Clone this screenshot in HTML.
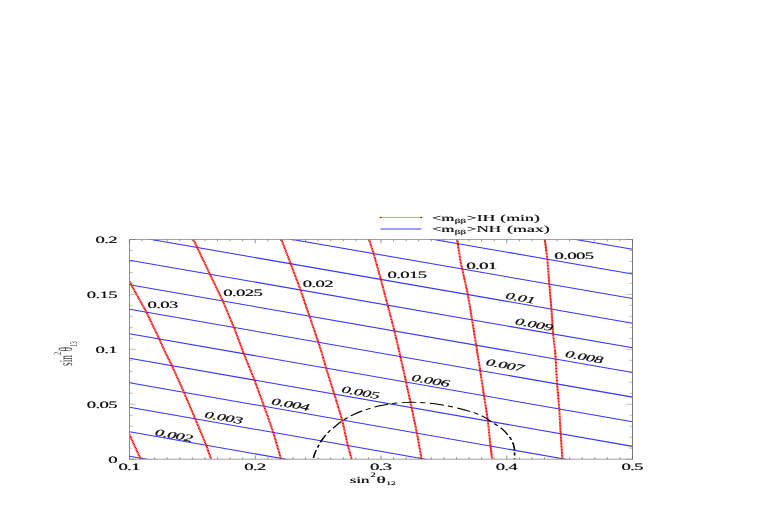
<!DOCTYPE html>
<html><head><meta charset="utf-8"><title>plot</title>
<style>html,body{margin:0;padding:0;background:#fff}svg{display:block}text{font-family:"Liberation Serif",serif;fill:#000;fill-opacity:0.8;text-rendering:geometricPrecision}</style>
</head><body>
<svg width="763" height="518" viewBox="0 0 763 518">
<rect width="763" height="518" fill="#fff"/>
<defs><clipPath id="c"><rect x="129.5" y="239.5" width="503.00" height="219.70"/></clipPath></defs>
<g clip-path="url(#c)" stroke="#3434ff" stroke-width="1.05" fill="none">
<line x1="129.5" y1="456.20" x2="632.5" y2="544.90"/>
<line x1="129.5" y1="431.70" x2="632.5" y2="520.27"/>
<line x1="129.5" y1="407.20" x2="632.5" y2="495.64"/>
<line x1="129.5" y1="382.70" x2="632.5" y2="471.01"/>
<line x1="129.5" y1="358.20" x2="632.5" y2="446.38"/>
<line x1="129.5" y1="333.70" x2="632.5" y2="421.75"/>
<line x1="129.5" y1="309.20" x2="632.5" y2="397.11"/>
<line x1="129.5" y1="284.70" x2="632.5" y2="372.48"/>
<line x1="129.5" y1="260.20" x2="632.5" y2="347.85"/>
<line x1="129.5" y1="235.70" x2="632.5" y2="323.22"/>
<line x1="129.5" y1="211.20" x2="632.5" y2="298.59"/>
<line x1="129.5" y1="186.70" x2="632.5" y2="273.96"/>
<line x1="129.5" y1="162.20" x2="632.5" y2="249.33"/>
</g>
<g clip-path="url(#c)" stroke="#ff0000" stroke-width="2.05" fill="none" stroke-dasharray="1.1 0.4">
<polyline points="129.5,434.7 140.7,459.2"/>
<polyline points="129.5,281.5 146.1,311.5 157.4,335.0 165.6,353.0 172.0,365.8 183.8,391.9 195.3,419.0 206.1,444.9 211.1,459.2"/>
<polyline points="193.4,239.5 209.8,273.9 222.3,299.9 234.2,328.0 241.3,347.0 243.5,353.0 254.1,379.0 264.0,406.0 273.1,431.9 281.1,459.2"/>
<polyline points="281.4,239.5 290.0,262.0 300.6,290.1 309.2,315.4 317.9,340.9 321.8,353.0 326.1,368.1 334.3,394.1 342.3,420.5 347.7,444.9 351.6,459.2"/>
<polyline points="369.1,239.5 373.6,253.4 380.8,279.3 387.7,305.3 394.2,330.1 399.6,353.0 406.1,382.2 411.5,407.1 416.9,433.0 421.6,459.2"/>
<polyline points="457.2,239.5 460.6,262.0 467.7,293.4 472.0,319.3 477.4,353.0 480.0,369.2 483.9,395.2 487.8,420.0 490.4,444.9 492.1,459.2"/>
<polyline points="544.8,239.5 547.3,258.8 549.4,284.3 551.4,309.2 553.1,334.5 555.3,353.0 557.0,383.3 559.2,408.1 560.7,433.0 562.4,459.2"/>
</g>
<g clip-path="url(#c)"><g transform="translate(413.6,459.2) scale(1.776,1)">
<path d="M -56.42 0.40 C -56.37 -0.20 -56.34 -1.87 -56.14 -3.20 C -55.93 -4.53 -55.61 -5.92 -55.18 -7.60 C -54.75 -9.28 -54.04 -11.62 -53.55 -13.30 C -53.05 -14.98 -52.74 -16.17 -52.20 -17.70 C -51.65 -19.23 -50.96 -20.98 -50.28 -22.50 C -49.61 -24.02 -48.86 -25.52 -48.14 -26.80 C -47.42 -28.08 -46.76 -28.98 -45.95 -30.20 C -45.13 -31.42 -44.19 -32.73 -43.24 -34.10 C -42.30 -35.47 -41.35 -37.07 -40.26 -38.40 C -39.17 -39.73 -37.83 -41.02 -36.71 -42.10 C -35.59 -43.18 -34.83 -43.88 -33.56 -44.90 C -32.28 -45.92 -30.56 -47.20 -29.05 -48.20 C -27.55 -49.20 -26.24 -50.02 -24.55 -50.90 C -22.86 -51.78 -20.61 -52.82 -18.92 -53.50 C -17.23 -54.18 -16.26 -54.52 -14.41 -55.00 C -12.57 -55.48 -10.03 -56.08 -7.83 -56.40 C -5.62 -56.72 -3.40 -56.88 -1.18 -56.90 C 1.03 -56.92 3.26 -56.75 5.46 -56.50 C 7.67 -56.25 9.71 -55.95 12.05 -55.40 C 14.39 -54.85 17.01 -54.07 19.48 -53.20 C 21.95 -52.33 24.81 -51.12 26.86 -50.20 C 28.90 -49.28 30.28 -48.50 31.76 -47.70 C 33.23 -46.90 34.48 -46.23 35.70 -45.40 C 36.92 -44.57 38.07 -43.62 39.08 -42.70 C 40.08 -41.78 40.59 -41.17 41.72 -39.90 C 42.86 -38.63 44.56 -36.68 45.89 -35.10 C 47.22 -33.52 48.57 -32.08 49.72 -30.40 C 50.86 -28.72 51.81 -27.02 52.76 -25.00 C 53.71 -22.98 54.77 -20.43 55.41 -18.30 C 56.04 -16.17 56.34 -14.23 56.59 -12.20 C 56.83 -10.17 56.84 -8.20 56.87 -6.10 C 56.90 -4.00 56.78 -0.68 56.76 0.40" fill="none" stroke="#000" stroke-width="0.95" stroke-dasharray="8.1 2.3 3.0 2.6" stroke-dashoffset="14.3"/>
</g></g>
<g stroke="#7a7a7a" fill="none"><line x1="129.5" y1="239.5" x2="129.5" y2="459.2" stroke-width="1" stroke="#8c8c8c"/><line x1="632.5" y1="239.5" x2="632.5" y2="459.2" stroke-width="1"/><line x1="129.0" y1="239.5" x2="633.0" y2="239.5" stroke-width="0.7"/><line x1="129.0" y1="459.2" x2="633.0" y2="459.2" stroke-width="0.7"/></g>
<g stroke="#666" stroke-width="0.4">
<line x1="129.50" y1="459.2" x2="129.50" y2="455.5" stroke-width="0.7"/>
<line x1="129.50" y1="239.5" x2="129.50" y2="243.2" stroke-width="0.7"/>
<line x1="142.07" y1="459.2" x2="142.07" y2="457.3" stroke-width="0.7"/>
<line x1="142.07" y1="239.5" x2="142.07" y2="241.4" stroke-width="0.7"/>
<line x1="154.65" y1="459.2" x2="154.65" y2="457.3" stroke-width="0.7"/>
<line x1="154.65" y1="239.5" x2="154.65" y2="241.4" stroke-width="0.7"/>
<line x1="167.22" y1="459.2" x2="167.22" y2="457.3" stroke-width="0.7"/>
<line x1="167.22" y1="239.5" x2="167.22" y2="241.4" stroke-width="0.7"/>
<line x1="179.80" y1="459.2" x2="179.80" y2="457.3" stroke-width="0.7"/>
<line x1="179.80" y1="239.5" x2="179.80" y2="241.4" stroke-width="0.7"/>
<line x1="192.38" y1="459.2" x2="192.38" y2="457.3" stroke-width="0.7"/>
<line x1="192.38" y1="239.5" x2="192.38" y2="241.4" stroke-width="0.7"/>
<line x1="204.95" y1="459.2" x2="204.95" y2="457.3" stroke-width="0.7"/>
<line x1="204.95" y1="239.5" x2="204.95" y2="241.4" stroke-width="0.7"/>
<line x1="217.53" y1="459.2" x2="217.53" y2="457.3" stroke-width="0.7"/>
<line x1="217.53" y1="239.5" x2="217.53" y2="241.4" stroke-width="0.7"/>
<line x1="230.10" y1="459.2" x2="230.10" y2="457.3" stroke-width="0.7"/>
<line x1="230.10" y1="239.5" x2="230.10" y2="241.4" stroke-width="0.7"/>
<line x1="242.68" y1="459.2" x2="242.68" y2="457.3" stroke-width="0.7"/>
<line x1="242.68" y1="239.5" x2="242.68" y2="241.4" stroke-width="0.7"/>
<line x1="255.25" y1="459.2" x2="255.25" y2="455.5" stroke-width="0.7"/>
<line x1="255.25" y1="239.5" x2="255.25" y2="243.2" stroke-width="0.7"/>
<line x1="267.82" y1="459.2" x2="267.82" y2="457.3" stroke-width="0.7"/>
<line x1="267.82" y1="239.5" x2="267.82" y2="241.4" stroke-width="0.7"/>
<line x1="280.40" y1="459.2" x2="280.40" y2="457.3" stroke-width="0.7"/>
<line x1="280.40" y1="239.5" x2="280.40" y2="241.4" stroke-width="0.7"/>
<line x1="292.98" y1="459.2" x2="292.98" y2="457.3" stroke-width="0.7"/>
<line x1="292.98" y1="239.5" x2="292.98" y2="241.4" stroke-width="0.7"/>
<line x1="305.55" y1="459.2" x2="305.55" y2="457.3" stroke-width="0.7"/>
<line x1="305.55" y1="239.5" x2="305.55" y2="241.4" stroke-width="0.7"/>
<line x1="318.12" y1="459.2" x2="318.12" y2="457.3" stroke-width="0.7"/>
<line x1="318.12" y1="239.5" x2="318.12" y2="241.4" stroke-width="0.7"/>
<line x1="330.70" y1="459.2" x2="330.70" y2="457.3" stroke-width="0.7"/>
<line x1="330.70" y1="239.5" x2="330.70" y2="241.4" stroke-width="0.7"/>
<line x1="343.27" y1="459.2" x2="343.27" y2="457.3" stroke-width="0.7"/>
<line x1="343.27" y1="239.5" x2="343.27" y2="241.4" stroke-width="0.7"/>
<line x1="355.85" y1="459.2" x2="355.85" y2="457.3" stroke-width="0.7"/>
<line x1="355.85" y1="239.5" x2="355.85" y2="241.4" stroke-width="0.7"/>
<line x1="368.43" y1="459.2" x2="368.43" y2="457.3" stroke-width="0.7"/>
<line x1="368.43" y1="239.5" x2="368.43" y2="241.4" stroke-width="0.7"/>
<line x1="381.00" y1="459.2" x2="381.00" y2="455.5" stroke-width="0.7"/>
<line x1="381.00" y1="239.5" x2="381.00" y2="243.2" stroke-width="0.7"/>
<line x1="393.57" y1="459.2" x2="393.57" y2="457.3" stroke-width="0.7"/>
<line x1="393.57" y1="239.5" x2="393.57" y2="241.4" stroke-width="0.7"/>
<line x1="406.15" y1="459.2" x2="406.15" y2="457.3" stroke-width="0.7"/>
<line x1="406.15" y1="239.5" x2="406.15" y2="241.4" stroke-width="0.7"/>
<line x1="418.73" y1="459.2" x2="418.73" y2="457.3" stroke-width="0.7"/>
<line x1="418.73" y1="239.5" x2="418.73" y2="241.4" stroke-width="0.7"/>
<line x1="431.30" y1="459.2" x2="431.30" y2="457.3" stroke-width="0.7"/>
<line x1="431.30" y1="239.5" x2="431.30" y2="241.4" stroke-width="0.7"/>
<line x1="443.88" y1="459.2" x2="443.88" y2="457.3" stroke-width="0.7"/>
<line x1="443.88" y1="239.5" x2="443.88" y2="241.4" stroke-width="0.7"/>
<line x1="456.45" y1="459.2" x2="456.45" y2="457.3" stroke-width="0.7"/>
<line x1="456.45" y1="239.5" x2="456.45" y2="241.4" stroke-width="0.7"/>
<line x1="469.02" y1="459.2" x2="469.02" y2="457.3" stroke-width="0.7"/>
<line x1="469.02" y1="239.5" x2="469.02" y2="241.4" stroke-width="0.7"/>
<line x1="481.60" y1="459.2" x2="481.60" y2="457.3" stroke-width="0.7"/>
<line x1="481.60" y1="239.5" x2="481.60" y2="241.4" stroke-width="0.7"/>
<line x1="494.18" y1="459.2" x2="494.18" y2="457.3" stroke-width="0.7"/>
<line x1="494.18" y1="239.5" x2="494.18" y2="241.4" stroke-width="0.7"/>
<line x1="506.75" y1="459.2" x2="506.75" y2="455.5" stroke-width="0.7"/>
<line x1="506.75" y1="239.5" x2="506.75" y2="243.2" stroke-width="0.7"/>
<line x1="519.33" y1="459.2" x2="519.33" y2="457.3" stroke-width="0.7"/>
<line x1="519.33" y1="239.5" x2="519.33" y2="241.4" stroke-width="0.7"/>
<line x1="531.90" y1="459.2" x2="531.90" y2="457.3" stroke-width="0.7"/>
<line x1="531.90" y1="239.5" x2="531.90" y2="241.4" stroke-width="0.7"/>
<line x1="544.48" y1="459.2" x2="544.48" y2="457.3" stroke-width="0.7"/>
<line x1="544.48" y1="239.5" x2="544.48" y2="241.4" stroke-width="0.7"/>
<line x1="557.05" y1="459.2" x2="557.05" y2="457.3" stroke-width="0.7"/>
<line x1="557.05" y1="239.5" x2="557.05" y2="241.4" stroke-width="0.7"/>
<line x1="569.62" y1="459.2" x2="569.62" y2="457.3" stroke-width="0.7"/>
<line x1="569.62" y1="239.5" x2="569.62" y2="241.4" stroke-width="0.7"/>
<line x1="582.20" y1="459.2" x2="582.20" y2="457.3" stroke-width="0.7"/>
<line x1="582.20" y1="239.5" x2="582.20" y2="241.4" stroke-width="0.7"/>
<line x1="594.77" y1="459.2" x2="594.77" y2="457.3" stroke-width="0.7"/>
<line x1="594.77" y1="239.5" x2="594.77" y2="241.4" stroke-width="0.7"/>
<line x1="607.35" y1="459.2" x2="607.35" y2="457.3" stroke-width="0.7"/>
<line x1="607.35" y1="239.5" x2="607.35" y2="241.4" stroke-width="0.7"/>
<line x1="619.92" y1="459.2" x2="619.92" y2="457.3" stroke-width="0.7"/>
<line x1="619.92" y1="239.5" x2="619.92" y2="241.4" stroke-width="0.7"/>
<line x1="632.50" y1="459.2" x2="632.50" y2="455.5" stroke-width="0.7"/>
<line x1="632.50" y1="239.5" x2="632.50" y2="243.2" stroke-width="0.7"/>
<line x1="129.5" y1="459.20" x2="135.8" y2="459.20"/>
<line x1="632.5" y1="459.20" x2="626.2" y2="459.20"/>
<line x1="129.5" y1="448.21" x2="132.8" y2="448.21"/>
<line x1="632.5" y1="448.21" x2="629.2" y2="448.21"/>
<line x1="129.5" y1="437.23" x2="132.8" y2="437.23"/>
<line x1="632.5" y1="437.23" x2="629.2" y2="437.23"/>
<line x1="129.5" y1="426.25" x2="132.8" y2="426.25"/>
<line x1="632.5" y1="426.25" x2="629.2" y2="426.25"/>
<line x1="129.5" y1="415.26" x2="132.8" y2="415.26"/>
<line x1="632.5" y1="415.26" x2="629.2" y2="415.26"/>
<line x1="129.5" y1="404.27" x2="135.8" y2="404.27"/>
<line x1="632.5" y1="404.27" x2="626.2" y2="404.27"/>
<line x1="129.5" y1="393.29" x2="132.8" y2="393.29"/>
<line x1="632.5" y1="393.29" x2="629.2" y2="393.29"/>
<line x1="129.5" y1="382.31" x2="132.8" y2="382.31"/>
<line x1="632.5" y1="382.31" x2="629.2" y2="382.31"/>
<line x1="129.5" y1="371.32" x2="132.8" y2="371.32"/>
<line x1="632.5" y1="371.32" x2="629.2" y2="371.32"/>
<line x1="129.5" y1="360.33" x2="132.8" y2="360.33"/>
<line x1="632.5" y1="360.33" x2="629.2" y2="360.33"/>
<line x1="129.5" y1="349.35" x2="135.8" y2="349.35"/>
<line x1="632.5" y1="349.35" x2="626.2" y2="349.35"/>
<line x1="129.5" y1="338.37" x2="132.8" y2="338.37"/>
<line x1="632.5" y1="338.37" x2="629.2" y2="338.37"/>
<line x1="129.5" y1="327.38" x2="132.8" y2="327.38"/>
<line x1="632.5" y1="327.38" x2="629.2" y2="327.38"/>
<line x1="129.5" y1="316.39" x2="132.8" y2="316.39"/>
<line x1="632.5" y1="316.39" x2="629.2" y2="316.39"/>
<line x1="129.5" y1="305.41" x2="132.8" y2="305.41"/>
<line x1="632.5" y1="305.41" x2="629.2" y2="305.41"/>
<line x1="129.5" y1="294.42" x2="135.8" y2="294.42"/>
<line x1="632.5" y1="294.42" x2="626.2" y2="294.42"/>
<line x1="129.5" y1="283.44" x2="132.8" y2="283.44"/>
<line x1="632.5" y1="283.44" x2="629.2" y2="283.44"/>
<line x1="129.5" y1="272.46" x2="132.8" y2="272.46"/>
<line x1="632.5" y1="272.46" x2="629.2" y2="272.46"/>
<line x1="129.5" y1="261.47" x2="132.8" y2="261.47"/>
<line x1="632.5" y1="261.47" x2="629.2" y2="261.47"/>
<line x1="129.5" y1="250.48" x2="132.8" y2="250.48"/>
<line x1="632.5" y1="250.48" x2="629.2" y2="250.48"/>
<line x1="129.5" y1="239.50" x2="135.8" y2="239.50"/>
<line x1="632.5" y1="239.50" x2="626.2" y2="239.50"/>
</g>
<g opacity="0.999">
<text transform="translate(117.30,462.51) scale(1.9080,1)" font-size="9.8" textLength="4.623" lengthAdjust="spacing" text-anchor="end">0</text>
<text transform="translate(117.90,462.51) scale(1.9080,1)" font-size="9.8" textLength="4.623" lengthAdjust="spacing" text-anchor="end">0</text>
<text transform="translate(117.30,407.59) scale(1.9080,1)" font-size="9.8" textLength="16.179" lengthAdjust="spacing" text-anchor="end">0.05</text>
<text transform="translate(117.90,407.59) scale(1.9080,1)" font-size="9.8" textLength="16.179" lengthAdjust="spacing" text-anchor="end">0.05</text>
<text transform="translate(117.30,352.66) scale(1.9080,1)" font-size="9.8" textLength="11.557" lengthAdjust="spacing" text-anchor="end">0.1</text>
<text transform="translate(117.90,352.66) scale(1.9080,1)" font-size="9.8" textLength="11.557" lengthAdjust="spacing" text-anchor="end">0.1</text>
<text transform="translate(117.30,297.74) scale(1.9080,1)" font-size="9.8" textLength="16.179" lengthAdjust="spacing" text-anchor="end">0.15</text>
<text transform="translate(117.90,297.74) scale(1.9080,1)" font-size="9.8" textLength="16.179" lengthAdjust="spacing" text-anchor="end">0.15</text>
<text transform="translate(117.30,242.81) scale(1.9080,1)" font-size="9.8" textLength="11.557" lengthAdjust="spacing" text-anchor="end">0.2</text>
<text transform="translate(117.90,242.81) scale(1.9080,1)" font-size="9.8" textLength="11.557" lengthAdjust="spacing" text-anchor="end">0.2</text>
<text transform="translate(129.20,470.10) scale(1.9080,1)" font-size="9.8" textLength="11.557" lengthAdjust="spacing" text-anchor="middle">0.1</text>
<text transform="translate(129.80,470.10) scale(1.9080,1)" font-size="9.8" textLength="11.557" lengthAdjust="spacing" text-anchor="middle">0.1</text>
<text transform="translate(254.95,470.10) scale(1.9080,1)" font-size="9.8" textLength="11.557" lengthAdjust="spacing" text-anchor="middle">0.2</text>
<text transform="translate(255.55,470.10) scale(1.9080,1)" font-size="9.8" textLength="11.557" lengthAdjust="spacing" text-anchor="middle">0.2</text>
<text transform="translate(380.70,470.10) scale(1.9080,1)" font-size="9.8" textLength="11.557" lengthAdjust="spacing" text-anchor="middle">0.3</text>
<text transform="translate(381.30,470.10) scale(1.9080,1)" font-size="9.8" textLength="11.557" lengthAdjust="spacing" text-anchor="middle">0.3</text>
<text transform="translate(506.45,470.10) scale(1.9080,1)" font-size="9.8" textLength="11.557" lengthAdjust="spacing" text-anchor="middle">0.4</text>
<text transform="translate(507.05,470.10) scale(1.9080,1)" font-size="9.8" textLength="11.557" lengthAdjust="spacing" text-anchor="middle">0.4</text>
<text transform="translate(632.20,470.10) scale(1.9080,1)" font-size="9.8" textLength="11.557" lengthAdjust="spacing" text-anchor="middle">0.5</text>
<text transform="translate(632.80,470.10) scale(1.9080,1)" font-size="9.8" textLength="11.557" lengthAdjust="spacing" text-anchor="middle">0.5</text>
<text transform="translate(147.20,308.20) scale(1.9080,1)" font-size="9.8" textLength="16.179" lengthAdjust="spacing">0.03</text>
<text transform="translate(147.80,308.20) scale(1.9080,1)" font-size="9.8" textLength="16.179" lengthAdjust="spacing">0.03</text>
<text transform="translate(222.90,296.20) scale(1.9080,1)" font-size="9.8" textLength="20.802" lengthAdjust="spacing">0.025</text>
<text transform="translate(223.50,296.20) scale(1.9080,1)" font-size="9.8" textLength="20.802" lengthAdjust="spacing">0.025</text>
<text transform="translate(302.40,286.90) scale(1.9080,1)" font-size="9.8" textLength="16.179" lengthAdjust="spacing">0.02</text>
<text transform="translate(303.00,286.90) scale(1.9080,1)" font-size="9.8" textLength="16.179" lengthAdjust="spacing">0.02</text>
<text transform="translate(387.20,278.20) scale(1.9080,1)" font-size="9.8" textLength="20.802" lengthAdjust="spacing">0.015</text>
<text transform="translate(387.80,278.20) scale(1.9080,1)" font-size="9.8" textLength="20.802" lengthAdjust="spacing">0.015</text>
<text transform="translate(466.10,268.50) scale(1.9080,1)" font-size="9.8" textLength="16.179" lengthAdjust="spacing">0.01</text>
<text transform="translate(466.70,268.50) scale(1.9080,1)" font-size="9.8" textLength="16.179" lengthAdjust="spacing">0.01</text>
<text transform="translate(554.10,259.20) scale(1.9080,1)" font-size="9.8" textLength="20.802" lengthAdjust="spacing">0.005</text>
<text transform="translate(554.70,259.20) scale(1.9080,1)" font-size="9.8" textLength="20.802" lengthAdjust="spacing">0.005</text>
<text transform="translate(174.00,435.40) scale(1.8,1) rotate(17.42) scale(1.06,1)" font-size="9.8" textLength="20.802" lengthAdjust="spacing" text-anchor="middle" y="3.31">0.002</text>
<text transform="translate(174.60,435.40) scale(1.8,1) rotate(17.42) scale(1.06,1)" font-size="9.8" textLength="20.802" lengthAdjust="spacing" text-anchor="middle" y="3.31">0.002</text>
<text transform="translate(223.70,417.60) scale(1.8,1) rotate(17.42) scale(1.06,1)" font-size="9.8" textLength="20.802" lengthAdjust="spacing" text-anchor="middle" y="3.31">0.003</text>
<text transform="translate(224.30,417.60) scale(1.8,1) rotate(17.42) scale(1.06,1)" font-size="9.8" textLength="20.802" lengthAdjust="spacing" text-anchor="middle" y="3.31">0.003</text>
<text transform="translate(290.50,404.40) scale(1.8,1) rotate(17.42) scale(1.06,1)" font-size="9.8" textLength="20.802" lengthAdjust="spacing" text-anchor="middle" y="3.31">0.004</text>
<text transform="translate(291.10,404.40) scale(1.8,1) rotate(17.42) scale(1.06,1)" font-size="9.8" textLength="20.802" lengthAdjust="spacing" text-anchor="middle" y="3.31">0.004</text>
<text transform="translate(360.60,392.50) scale(1.8,1) rotate(17.42) scale(1.06,1)" font-size="9.8" textLength="20.802" lengthAdjust="spacing" text-anchor="middle" y="3.31">0.005</text>
<text transform="translate(361.20,392.50) scale(1.8,1) rotate(17.42) scale(1.06,1)" font-size="9.8" textLength="20.802" lengthAdjust="spacing" text-anchor="middle" y="3.31">0.005</text>
<text transform="translate(430.70,380.70) scale(1.8,1) rotate(17.42) scale(1.06,1)" font-size="9.8" textLength="20.802" lengthAdjust="spacing" text-anchor="middle" y="3.31">0.006</text>
<text transform="translate(431.30,380.70) scale(1.8,1) rotate(17.42) scale(1.06,1)" font-size="9.8" textLength="20.802" lengthAdjust="spacing" text-anchor="middle" y="3.31">0.006</text>
<text transform="translate(505.00,365.20) scale(1.8,1) rotate(17.42) scale(1.06,1)" font-size="9.8" textLength="20.802" lengthAdjust="spacing" text-anchor="middle" y="3.31">0.007</text>
<text transform="translate(505.60,365.20) scale(1.8,1) rotate(17.42) scale(1.06,1)" font-size="9.8" textLength="20.802" lengthAdjust="spacing" text-anchor="middle" y="3.31">0.007</text>
<text transform="translate(584.30,357.00) scale(1.8,1) rotate(17.42) scale(1.06,1)" font-size="9.8" textLength="20.802" lengthAdjust="spacing" text-anchor="middle" y="3.31">0.008</text>
<text transform="translate(584.90,357.00) scale(1.8,1) rotate(17.42) scale(1.06,1)" font-size="9.8" textLength="20.802" lengthAdjust="spacing" text-anchor="middle" y="3.31">0.008</text>
<text transform="translate(534.20,324.50) scale(1.8,1) rotate(17.42) scale(1.06,1)" font-size="9.8" textLength="20.802" lengthAdjust="spacing" text-anchor="middle" y="3.31">0.009</text>
<text transform="translate(534.80,324.50) scale(1.8,1) rotate(17.42) scale(1.06,1)" font-size="9.8" textLength="20.802" lengthAdjust="spacing" text-anchor="middle" y="3.31">0.009</text>
<text transform="translate(520.40,298.00) scale(1.8,1) rotate(17.42) scale(1.06,1)" font-size="9.8" textLength="16.179" lengthAdjust="spacing" text-anchor="middle" y="3.31">0.01</text>
<text transform="translate(521.00,298.00) scale(1.8,1) rotate(17.42) scale(1.06,1)" font-size="9.8" textLength="16.179" lengthAdjust="spacing" text-anchor="middle" y="3.31">0.01</text>
<text transform="translate(431.70,220.90) scale(1.8,1)" font-size="9.3" textLength="12.44" lengthAdjust="spacingAndGlyphs">&lt;m</text>
<text transform="translate(432.30,220.90) scale(1.8,1)" font-size="9.3" textLength="12.44" lengthAdjust="spacingAndGlyphs">&lt;m</text>
<text transform="translate(454.50,223.00) scale(1.8,1)" font-size="6.2" textLength="6.17" lengthAdjust="spacingAndGlyphs">ββ</text>
<text transform="translate(455.10,223.00) scale(1.8,1)" font-size="6.2" textLength="6.17" lengthAdjust="spacingAndGlyphs">ββ</text>
<text transform="translate(466.50,220.90) scale(1.8,1)" font-size="9.3" textLength="15.83" lengthAdjust="spacingAndGlyphs">&gt;IH</text>
<text transform="translate(467.10,220.90) scale(1.8,1)" font-size="9.3" textLength="15.83" lengthAdjust="spacingAndGlyphs">&gt;IH</text>
<text transform="translate(500.00,220.90) scale(1.8,1)" font-size="9.3" textLength="21.94" lengthAdjust="spacingAndGlyphs">(min)</text>
<text transform="translate(500.60,220.90) scale(1.8,1)" font-size="9.3" textLength="21.94" lengthAdjust="spacingAndGlyphs">(min)</text>
<text transform="translate(431.70,232.30) scale(1.8,1)" font-size="9.3" textLength="12.44" lengthAdjust="spacingAndGlyphs">&lt;m</text>
<text transform="translate(432.30,232.30) scale(1.8,1)" font-size="9.3" textLength="12.44" lengthAdjust="spacingAndGlyphs">&lt;m</text>
<text transform="translate(454.50,234.40) scale(1.8,1)" font-size="6.2" textLength="6.17" lengthAdjust="spacingAndGlyphs">ββ</text>
<text transform="translate(455.10,234.40) scale(1.8,1)" font-size="6.2" textLength="6.17" lengthAdjust="spacingAndGlyphs">ββ</text>
<text transform="translate(466.50,232.30) scale(1.8,1)" font-size="9.3" textLength="19.06" lengthAdjust="spacingAndGlyphs">&gt;NH</text>
<text transform="translate(467.10,232.30) scale(1.8,1)" font-size="9.3" textLength="19.06" lengthAdjust="spacingAndGlyphs">&gt;NH</text>
<text transform="translate(506.80,232.30) scale(1.8,1)" font-size="9.3" textLength="23.67" lengthAdjust="spacingAndGlyphs">(max)</text>
<text transform="translate(507.40,232.30) scale(1.8,1)" font-size="9.3" textLength="23.67" lengthAdjust="spacingAndGlyphs">(max)</text>
<text transform="translate(349.40,482.80) scale(1.8,1)" font-size="9.3" textLength="11.06" lengthAdjust="spacingAndGlyphs">sin</text>
<text transform="translate(350.00,482.80) scale(1.8,1)" font-size="9.3" textLength="11.06" lengthAdjust="spacingAndGlyphs">sin</text>
<text transform="translate(370.00,477.20) scale(1.8,1)" font-size="6.8" textLength="3.11" lengthAdjust="spacingAndGlyphs">2</text>
<text transform="translate(370.60,477.20) scale(1.8,1)" font-size="6.8" textLength="3.11" lengthAdjust="spacingAndGlyphs">2</text>
<text transform="translate(376.30,482.80) scale(1.8,1)" font-size="9.8" textLength="5.00" lengthAdjust="spacingAndGlyphs">θ</text>
<text transform="translate(376.90,482.80) scale(1.8,1)" font-size="9.8" textLength="5.00" lengthAdjust="spacingAndGlyphs">θ</text>
<text transform="translate(386.00,485.40) scale(1.8,1)" font-size="5.4" textLength="5.28" lengthAdjust="spacingAndGlyphs">12</text>
<text transform="translate(386.60,485.40) scale(1.8,1)" font-size="5.4" textLength="5.28" lengthAdjust="spacingAndGlyphs">12</text>
<text transform="translate(71.90,365.90) scale(1.8,1) rotate(-90)" font-size="10.3" textLength="10.80" lengthAdjust="spacingAndGlyphs" fill-opacity="1">sin</text>
<text transform="translate(61.10,354.90) scale(1.8,1) rotate(-90)" font-size="6.1" textLength="3.10" lengthAdjust="spacingAndGlyphs" fill-opacity="1">2</text>
<text transform="translate(71.90,351.50) scale(1.8,1) rotate(-90)" font-size="10.6" textLength="4.60" lengthAdjust="spacingAndGlyphs" fill-opacity="1">θ</text>
<text transform="translate(76.76,346.70) scale(1.8,1) rotate(-90)" font-size="5.8" textLength="5.50" lengthAdjust="spacingAndGlyphs" fill-opacity="1">13</text>
</g>
<line x1="380.3" y1="217.45" x2="421.5" y2="217.45" stroke="#ff0000" stroke-width="0.45"/>
<ellipse cx="380.6" cy="217.45" rx="1.1" ry="0.7" fill="#ff0000"/><ellipse cx="421.2" cy="217.45" rx="1.1" ry="0.7" fill="#ff0000"/>
<line x1="380.5" y1="229" x2="421.5" y2="229" stroke="#8080ff" stroke-width="1.6"/>
</svg></body></html>
